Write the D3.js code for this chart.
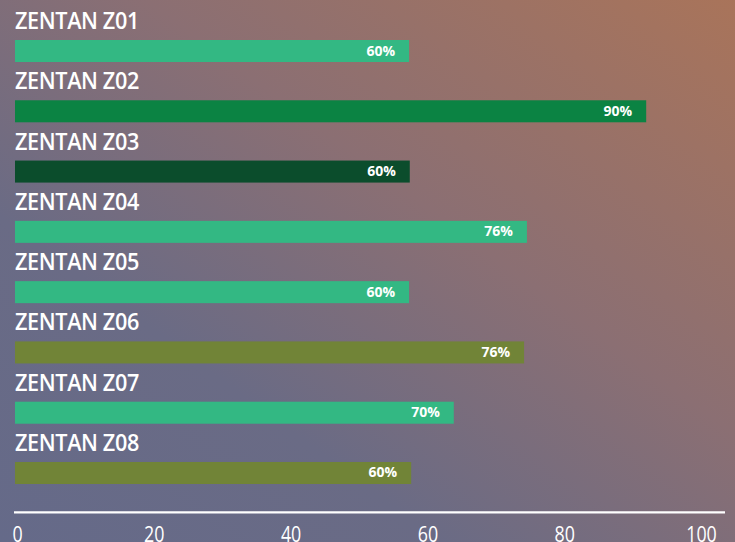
<!DOCTYPE html>
<html>
<head>
<meta charset="utf-8">
<script src="https://cdn.jsdelivr.net/npm/d3@7"></script>
<style>
  html, body { margin: 0; padding: 0; }
  body { width: 735px; height: 542px; overflow: hidden; }
  svg { display: block; }
</style>
</head>
<body>
<svg id="chart" width="735" height="542"></svg>
<script>
// ---- data ----
const categories = ["ZENTAN Z01", "ZENTAN Z02", "ZENTAN Z03", "ZENTAN Z04",
                    "ZENTAN Z05", "ZENTAN Z06", "ZENTAN Z07", "ZENTAN Z08"];
const barValues = [55.5, 88.9, 55.6, 72.1, 55.5, 71.7, 61.8, 55.8];
const valueLabels = ["60%", "90%", "60%", "76%", "60%", "76%", "70%", "60%"];
const tickValues = [0, 20, 40, 60, 80, 100];

// ---- styles ----
const barColors = ["#33b883", "#0b8343", "#0b4d2c", "#33b883",
                   "#33b883", "#718437", "#33b883", "#718437"];

const W = 735, H = 542;
const svg = d3.select("#chart");

// background gradient
const defs = svg.append("defs");
const grad = defs.append("linearGradient")
  .attr("id", "bg").attr("x1", "0").attr("y1", "1").attr("x2", "1").attr("y2", "0");
grad.append("stop").attr("offset", "0").attr("stop-color", "#656a89");
grad.append("stop").attr("offset", "0.3").attr("stop-color", "#6a6b85");
grad.append("stop").attr("offset", "0.6").attr("stop-color", "#8b6f73");
grad.append("stop").attr("offset", "1").attr("stop-color", "#a9745a");
svg.append("rect").attr("width", W).attr("height", H).attr("fill", "url(#bg)");

// scales
const x = d3.scaleLinear().domain([0, 100]).range([15, 725]);
const tickX = d3.scaleLinear().domain([0, 100]).range([17, 701]);
const y = d3.scaleBand().domain(categories).range([40, 484])
  .paddingInner(0.635).paddingOuter(0);
const color = d3.scaleOrdinal().domain(categories).range(barColors);

const rows = svg.append("g").selectAll("g")
  .data(categories.map((c, i) => ({ c, v: barValues[i], l: valueLabels[i] })))
  .join("g");

rows.append("text")
  .attr("x", x(0))
  .attr("y", d => y(d.c) - 11)
  .attr("fill", "#ffffff")
  .style("font-family", "'Open Sans', sans-serif")
  .style("font-weight", 600)
  .style("font-size", "23.5px")
  .style("letter-spacing", "-0.4px")
  .style("transform-box", "fill-box")
  .style("transform-origin", "left center")
  .style("transform", "scaleX(0.92)")
  .text(d => d.c);

rows.append("rect")
  .attr("x", x(0))
  .attr("y", d => y(d.c))
  .attr("width", d => x(d.v) - x(0))
  .attr("height", y.bandwidth())
  .attr("fill", d => color(d.c));

rows.append("text")
  .attr("x", d => x(d.v) - 14)
  .attr("y", d => y(d.c) + y.bandwidth() / 2 + 4.5)
  .attr("text-anchor", "end")
  .attr("fill", "#ffffff")
  .style("font-family", "'Open Sans', sans-serif")
  .style("font-weight", 700)
  .style("font-size", "14px")
  .text(d => d.l);

// axis line
svg.append("line")
  .attr("x1", x(0) - 1).attr("x2", x(100))
  .attr("y1", 512.3).attr("y2", 512.3)
  .attr("stroke", "#ffffff").attr("stroke-width", 2.2);

// tick labels
const axis = svg.append("g")
  .attr("transform", "translate(0,520)")
  .call(d3.axisBottom(tickX).tickValues(tickValues).tickSize(0).tickPadding(0)
    .tickFormat(d3.format("d")));
axis.select(".domain").remove();
axis.selectAll("text")
  .attr("fill", "#ffffff")
  .attr("dy", "0")
  .attr("y", 22)
  .style("font-family", "'Open Sans', sans-serif")
  .style("font-size", "21px")
  .style("font-weight", 400)
  .style("transform-box", "fill-box")
  .style("transform-origin", "center")
  .style("transform", "scaleX(0.85)");
</script>
</body>
</html>
